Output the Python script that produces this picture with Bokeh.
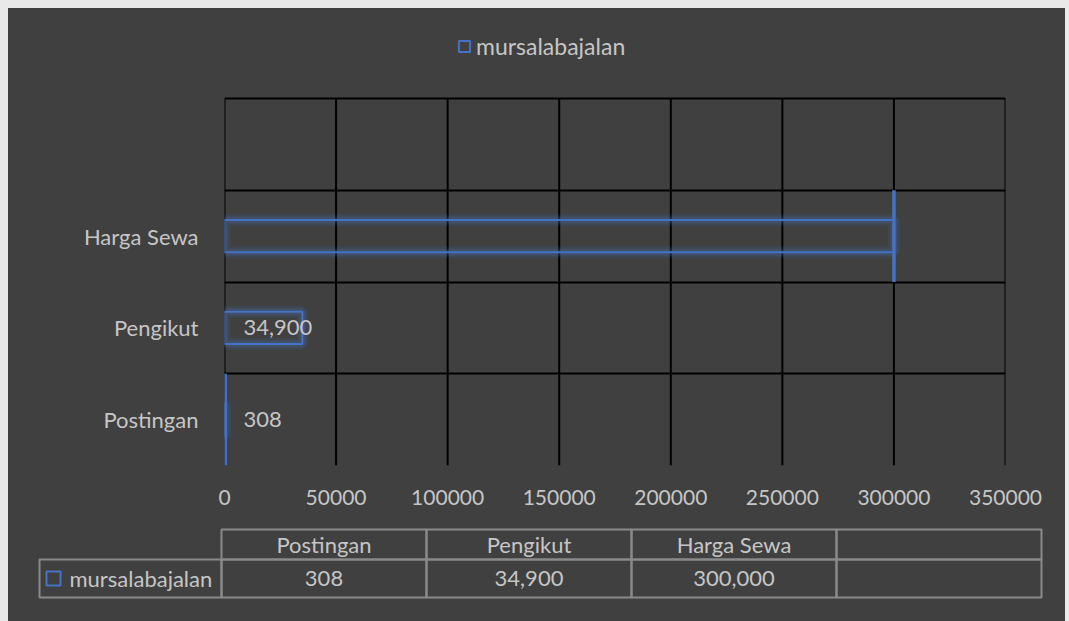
from bokeh.plotting import figure
from bokeh.models import (Range1d, FixedTicker, Legend, LegendItem, NumeralTickFormatter,
                          ColumnDataSource)
from bokeh.layouts import column
from bokeh.core.properties import value
from bokeh.embed import file_html
from bokeh.resources import INLINE

# ---- data ----
categories = ["Postingan", "Pengikut", "Harga Sewa"]
values = [308, 34900, 300000]
series_name = "mursalabajalan"
x_ticks = [0, 50000, 100000, 150000, 200000, 250000, 300000, 350000]
labelled_categories = ["Postingan", "Pengikut"]      # categories showing a data label
edge_mark_categories = ["Postingan", "Harga Sewa"]   # categories drawn with a full-row end line
table_columns = categories + [""]                    # data table has one blank column

# ---- styles ----
BG = "#404040"
TXT = "#c6c6c6"
BLUE = "#4472C4"
FONT = "Lato"
FS = "22px"

n_slots = len(categories) + 1
legend_space = 0.981  # headroom above the plot area (in row units) for the legend

p1 = figure(width=1057, height=502, x_range=Range1d(0, 350000),
            y_range=Range1d(0, n_slots + legend_space),
            output_backend="svg", toolbar_location=None, frame_align=False,
            min_border_left=216, min_border_right=60, min_border_top=0, min_border_bottom=45,
            background_fill_color=BG, border_fill_color=BG,
            outline_line_color=None)

# axes
xa = p1.xaxis[0]
xa.ticker = FixedTicker(ticks=x_ticks)
xa.formatter = NumeralTickFormatter(format="0")
ya = p1.yaxis[0]
ya.ticker = FixedTicker(ticks=[i + 0.5 for i in range(len(categories))])
ya.major_label_overrides = {i + 0.5: c for i, c in enumerate(categories)}
for ax in (xa, ya):
    ax.axis_line_color = None
    ax.major_tick_line_color = None
    ax.minor_tick_line_color = None
    ax.major_label_text_color = TXT
    ax.major_label_text_font = FONT
    ax.major_label_text_font_size = FS
xa.major_label_text_font_size = "21px"
xa.major_label_standoff = 18
ya.major_label_standoff = 20

p1.xgrid.visible = False
p1.ygrid.ticker = FixedTicker(ticks=list(range(n_slots + 1)))
p1.ygrid.grid_line_color = "black"
p1.ygrid.grid_line_width = 2
# vertical grid lines limited to the plot area
p1.segment(x0=x_ticks, x1=x_ticks, y0=[0] * len(x_ticks), y1=[n_slots] * len(x_ticks),
           line_color="black", line_width=2)

src = ColumnDataSource(dict(
    y=[i + 0.5 for i in range(len(categories))],
    right=values,
    cat=categories,
))

# glow
p1.hbar(y="y", left=0, right="right", height=0.35, source=src,
        fill_alpha=0, line_color=BLUE, line_width=12, line_alpha=0.12)
p1.hbar(y="y", left=0, right="right", height=0.35, source=src,
        fill_alpha=0, line_color=BLUE, line_width=7, line_alpha=0.2)
bars = p1.hbar(y="y", left=0, right="right", height=0.35, source=src,
               fill_alpha=0, line_color=BLUE, line_width=2)

# full-row end lines
idx = [categories.index(c) for c in edge_mark_categories]
p1.segment(x0=[values[i] for i in idx], x1=[values[i] for i in idx],
           y0=[i for i in idx], y1=[i + 1 for i in idx],
           line_color=BLUE, line_width=3.5)

# data labels
lidx = [categories.index(c) for c in labelled_categories]
p1.text(x=[0] * len(lidx), y=[i + 0.5 for i in lidx],
        text=[f"{values[i]:,}" for i in lidx], x_offset=19,
        text_baseline="middle", text_align="left",
        text_font=value(FONT), text_font_size=FS, text_color=TXT)

legend = Legend(items=[LegendItem(label=series_name, renderers=[bars])],
                location=(233, 405), orientation="horizontal",
                glyph_width=14, glyph_height=14, label_standoff=5,
                label_text_font=FONT, label_text_font_size="23px", label_text_color=TXT,
                padding=0, margin=0, border_line_color=None, background_fill_alpha=0)
p1.add_layout(legend, "center")

# ---- data table ----
p2 = figure(width=1057, height=111, x_range=Range1d(-213 / 205, 844 / 205),
            y_range=Range1d(0, 111), output_backend="svg", toolbar_location=None,
            frame_align=False,
            min_border=0, min_border_left=0, min_border_right=0, min_border_top=0,
            min_border_bottom=0, background_fill_color=BG, border_fill_color=BG,
            outline_line_color=None)
p2.axis.visible = False
p2.grid.visible = False

ncol = len(table_columns)
GRAY = "#8a8a8a"
# header row
p2.quad(left=list(range(ncol)), right=[i + 1 for i in range(ncol)],
        bottom=[62] * ncol, top=[92] * ncol, fill_alpha=0, line_color=GRAY, line_width=2)
# value row
p2.quad(left=[-182 / 205] + list(range(ncol)), right=[0] + [i + 1 for i in range(ncol)],
        bottom=[24] * (ncol + 1), top=[62] * (ncol + 1), fill_alpha=0, line_color=GRAY, line_width=2)

p2.text(x=[i + 0.5 for i in range(ncol)], y=[77] * ncol, text=table_columns,
        text_align="center", text_baseline="middle",
        text_font=value(FONT), text_font_size=FS, text_color=TXT)
table_vals = [f"{v:,}" for v in values] + [""]
p2.text(x=[i + 0.5 for i in range(ncol)], y=[43] * ncol, text=table_vals,
        text_align="center", text_baseline="middle",
        text_font=value(FONT), text_font_size=FS, text_color=TXT)
# legend key in table
p2.rect(x=[-168 / 205], y=[43], width=14, height=14, width_units="screen", height_units="screen",
        fill_alpha=0, line_color=BLUE, line_width=2)
p2.text(x=[-152 / 205], y=[43], text=[series_name], text_align="left", text_baseline="middle",
        text_font=value(FONT), text_font_size=FS, text_color=TXT)

inner = column(p1, p2, spacing=0, styles={"background-color": BG})
layout = column(inner, styles={"padding": "8px 4px 0px 8px", "background-color": "#e9e9e9"})

open("out.html", "w").write(file_html(layout, INLINE))
